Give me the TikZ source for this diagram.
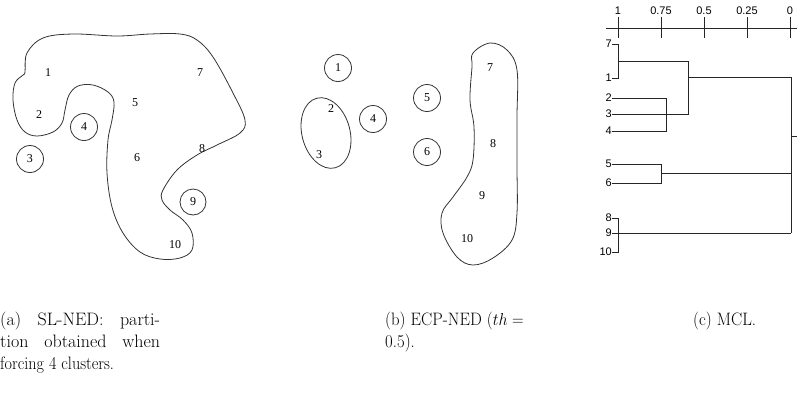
\documentclass[tikz,border=0pt]{standalone}
\usepackage{fontspec}
\usepackage{graphicx}
\newfontfamily\labfont{Liberation Serif}
\newfontfamily\dfont{Liberation Sans}
\newcommand{\capsq}[1]{\scalebox{0.93}[1]{#1}}
\begin{document}
\begin{tikzpicture}[x=1pt,y=-1pt,
  outl/.style={draw=black!80,line width=0.8pt},
  pt/.style={font=\labfont\fontsize{12}{14}\selectfont,inner sep=0pt},
  cpt/.style={pt,circle,draw=black!80,line width=0.8pt,minimum size=27pt},
  lf/.style={font=\dfont\fontsize{11}{13}\selectfont,inner sep=0pt,anchor=east},
  dl/.style={draw=black!85,line width=0.8pt},
  captext/.style={font=\fontsize{18}{22}\selectfont,inner sep=0pt,anchor=base west}]
\useasboundingbox (0,0) rectangle (797,400);
% ---------- panel (a)
\draw[outl] plot[smooth cycle,tension=0.6] coordinates {
 (25,72) (27,53) (43,38) (73,34) (117,36) (150,34) (180,34) (197,40) (213,57)
 (233,93) (245,120) (240,133) (217,145) (197,155) (177,170) (163,190) (162,200)
 (170,210) (183,220) (192,233) (192,250) (180,258) (160,259) (140,252) (123,233)
 (112,207) (107,173) (108,140) (112,120) (114,102) (108,92) (93,85) (78,86)
 (69,95) (65,110) (62,123) (53,132) (37,136) (25,132) (17,120) (13,100) (15,83) (23,75)};
\node[pt] (a1) at (48,73) {1};
\node[pt] (a2) at (39,115) {2};
\node[cpt] (a3) at (30,159) {3};
\node[cpt] (a4) at (84,127) {4};
\node[pt] (a5) at (135,103) {5};
\node[pt] (a6) at (137,158) {6};
\node[pt] (a7) at (200,73) {7};
\node[pt] (a8) at (202,149) {8};
\node[cpt,minimum size=26pt] (a9) at (193,202) {9};
\node[pt] (a10) at (175,245) {10};
% ---------- panel (b)
\node[cpt] (b1) at (338,68) {1};
\draw[outl,rotate around={15:(326,133)}] (326,133) ellipse [x radius=24, y radius=36];
\node[pt] (b2) at (331,109) {2};
\node[pt] (b3) at (319,155) {3};
\node[cpt] (b4) at (373,119) {4};
\node[cpt] (b5) at (427,98) {5};
\node[cpt] (b6) at (427,152) {6};
\draw[outl] plot[smooth cycle,tension=0.6] coordinates {
 (473,53) (490,43) (507,50) (517,70) (517,117) (517,167) (517,213) (512,240)
 (493,258) (473,265) (457,257) (443,233) (442,213) (453,197) (467,177) (473,160)
 (474,127) (470,100) (472,67)};
\node[pt] (b7) at (490,68) {7};
\node[pt] (b8) at (493,144) {8};
\node[pt] (b9) at (482,196) {9};
\node[pt] (b10) at (467,239) {10};
% ---------- panel (c): axis
\draw[dl] (606,28) -- (797,28);
\foreach \xv/\lab in {618/1,661/0.75,704/0.5,747/0.25,790/0}{
  \draw[dl] (\xv,17) -- (\xv,38);
  \node[font=\dfont\fontsize{11}{13}\selectfont,inner sep=0pt] at (\xv,11) {\lab};
}
% leaves
\node[lf] (l7) at (612,44) {7};
\node[lf] (l1) at (612,78) {1};
\node[lf] (l2) at (612,98) {2};
\node[lf] (l3) at (612,114) {3};
\node[lf] (l4) at (612,131) {4};
\node[lf] (l5) at (612,164) {5};
\node[lf] (l6) at (612,183) {6};
\node[lf] (l8) at (612,218) {8};
\node[lf] (l9) at (612,233) {9};
\node[lf] (l10) at (612,252) {10};
% 7,1
\draw[dl] (l7.east) -- (618,44) -- (618,78) -- (l1.east);
\draw[dl] (618,61) -- (688,61);
% 2,3,4
\draw[dl] (l2.east) -- (666,98) -- (666,131) -- (l4.east);
\draw[dl] (l3.east) -- (688,114) -- (688,61);
\draw[dl] (688,77) -- (791,77);
% 5,6
\draw[dl] (l5.east) -- (661,164) -- (661,183) -- (l6.east);
\draw[dl] (661,173) -- (791,173);
% 8,9,10
\draw[dl] (l8.east) -- (618,218) -- (618,252) -- (l10.east);
\draw[dl] (l9.east) -- (791,233);
% root
\draw[dl] (791,77) -- (791,233);
\draw[dl] (791,136) -- (797,136);
% ---------- captions
\node[captext] (ca1) at (0,325) {\makebox[160pt][s]{(a) SL-NED: parti-}};
\node[captext] (ca2) at (0,347) {\makebox[160pt][s]{tion obtained when}};
\node[captext] (ca3) at (0,369) {\scalebox{0.9}[1]{forcing 4 clusters.}};
\node[captext] (cb1) at (385,325) {\capsq{(b) ECP-NED ($th =$}};
\node[captext] (cb2) at (385,347) {\capsq{0.5).}};
\node[captext] (cc1) at (693,325) {\capsq{(c) MCL.}};
\end{tikzpicture}
\end{document}
